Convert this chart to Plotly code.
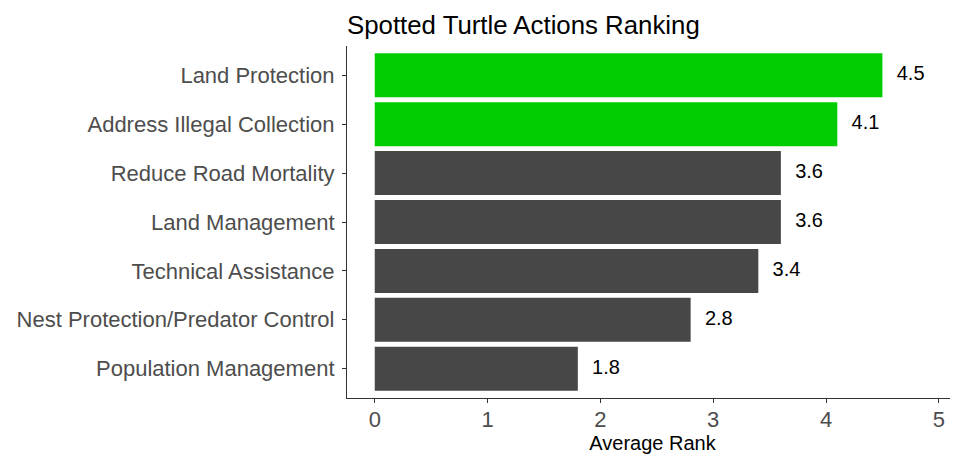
import plotly.graph_objects as go

actions = ["Land Protection", "Address Illegal Collection", "Reduce Road Mortality",
           "Land Management", "Technical Assistance", "Nest Protection/Predator Control",
           "Population Management"]
avg_rank = [4.5, 4.1, 3.6, 3.6, 3.4, 2.8, 1.8]
bar_colors = ["#00CC00", "#00CC00", "#474747", "#474747", "#474747", "#474747", "#474747"]
label_offset = 0.25

fig = go.Figure()
fig.add_trace(go.Bar(
    x=avg_rank, y=actions, orientation="h",
    marker=dict(color=bar_colors, line=dict(width=0)),
    width=0.9, hoverinfo="skip", showlegend=False,
))
fig.add_trace(go.Scatter(
    x=[v + label_offset for v in avg_rank], y=actions, mode="text",
    text=[f"{v:.1f}" for v in avg_rank], textposition="middle center",
    textfont=dict(family="Liberation Sans, Arial", size=20, color="#000000"),
    showlegend=False, hoverinfo="skip",
))

fig.update_layout(
    width=950, height=450,
    margin=dict(l=339, r=0, t=38, b=60, autoexpand=False),
    paper_bgcolor="white", plot_bgcolor="white",
    font=dict(family="Liberation Sans, Arial", color="#4D4D4D"),
    title=dict(text="Spotted Turtle Actions Ranking", x=0, xref="paper", xanchor="left",
               y=0.962, yref="container", yanchor="middle",
               font=dict(size=25.8, color="#000000")),
    xaxis=dict(range=[-0.246, 5.17], tickvals=[0, 1, 2, 3, 4, 5],
               showgrid=False, zeroline=False, showline=True, linecolor="#333333",
               linewidth=1.2, ticks="outside", ticklen=4, tickcolor="#333333",
               ticklabelstandoff=-3,
               tickfont=dict(size=22, color="#4D4D4D"),
               title=dict(text="Average Rank", font=dict(size=20, color="#000000"), standoff=3)),
    yaxis=dict(categoryorder="array", categoryarray=actions[::-1], range=[-0.6, 6.6],
               showgrid=False, zeroline=False, showline=True, linecolor="#333333",
               linewidth=1.2, ticks="outside", ticklen=4, tickcolor="#333333",
               ticklabelstandoff=3,
               tickfont=dict(size=22, color="#4D4D4D")),
)

fig.write_html("out.html")
